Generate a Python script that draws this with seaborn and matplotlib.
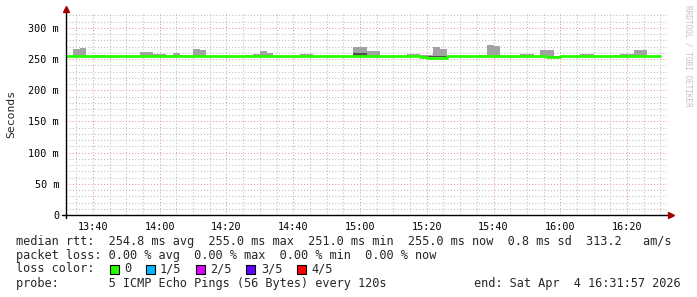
import numpy as np
import pandas as pd
import matplotlib
matplotlib.use("Agg")
import matplotlib.pyplot as plt
import seaborn as sns
from matplotlib.ticker import FixedLocator, MultipleLocator
from matplotlib.patches import Rectangle

sns.set_style("white")
plt.rcParams["font.family"] = ["DejaVu Sans Mono", "DejaVu Sans"]

# ---------------- data (ms), one value per 2-minute bin from 13:32 ----------------
bin_start = 13 * 60 + 32          # minutes since midnight
bin_step = 2                      # minutes
median_ms = [
    255, 255, 255, 255, 255, 255, 255, 255, 255, 255,
    255, 255, 255, 255, 255, 255, 255, 255, 255, 255,
    255, 255, 255, 255, 255, 255, 255, 255, 255, 255,
    255, 255, 255, 255, 255, 255, 255, 255, 255, 255,
    255, 255, 255, 255, 255, 255, 255, 255, 255, 255,
    255, 255, 255, 253.5, 252, 252, 252, 255, 255, 255,
    255, 255, 255, 255, 255, 255, 255, 255, 255, 255,
    255, 255, 253, 253, 255, 255, 255, 255, 255, 255,
    255, 255, 255, 255, 255, 255, 255, 255, 255,
]
smoke_top_ms = [
    255, 266, 268, 255, 257, 257, 255, 255, 255, 255,
    255, 261.5, 261.5, 258, 258, 257, 260, 257, 257, 266,
    265, 255, 255, 255, 255, 255, 255, 257, 258, 263,
    260, 255, 255, 255, 255, 258, 258, 255, 255, 255,
    255, 255, 255, 269.5, 269.5, 263, 263, 255, 255, 255,
    255, 258, 258, 257, 257, 269.5, 266, 255, 255, 255,
    255, 255, 257, 273, 271, 255, 255, 255, 258, 258,
    255, 265, 265, 255, 255, 255, 255, 258, 258, 255,
    255, 255, 257, 258, 258, 265, 265, 255, 255,
]
smoke_dark_top_ms = [255] * 43 + [260, 260] + [255] * 44
smoke_base_ms = 254

x_ticks = ["13:40", "14:00", "14:20", "14:40", "15:00", "15:20", "15:40", "16:00", "16:20"]
y_ticks = [0, 50, 100, 150, 200, 250, 300]
y_tick_labels = ["0", "50 m", "100 m", "150 m", "200 m", "250 m", "300 m"]

loss_labels = ["0", "1/5", "2/5", "3/5", "4/5"]
loss_colors = ["#26ff00", "#00b8ff", "#dd00ff", "#5e00ff", "#ff0000"]

stats_line = ("median rtt:  254.8 ms avg  255.0 ms max  251.0 ms min  "
              "255.0 ms now  0.8 ms sd  313.2   am/s")
loss_line = "packet loss: 0.00 % avg  0.00 % max  0.00 % min  0.00 % now"
probe_line = "probe:       5 ICMP Echo Pings (56 Bytes) every 120s"
end_line = "end: Sat Apr  4 16:31:57 2026"

# ---------------- figure ----------------
W, H = 697, 297
fig = plt.figure(figsize=(W / 100, H / 100), dpi=100)
fig.patch.set_facecolor("white")
ax_l, ax_r, ax_b, ax_t = 66, 667, 215, 13
ax = fig.add_axes([ax_l / W, 1 - ax_b / H, (ax_r - ax_l) / W, (ax_b - ax_t) / H])
ax.set_facecolor("white")

n = len(median_ms)
starts = bin_start + bin_step * np.arange(n)
edges = np.append(starts, starts[-1] + bin_step)
df = pd.DataFrame({"t": starts, "median": median_ms, "top": smoke_top_ms,
                   "dark": smoke_dark_top_ms})

t0 = 13 * 60 + 31 + 57 / 60
ax.set_xlim(t0, t0 + 180)
ax.set_ylim(0, 324)

# grid
ax.xaxis.set_major_locator(FixedLocator([13 * 60 + 40 + 20 * i for i in range(len(x_ticks))]))
ax.xaxis.set_minor_locator(MultipleLocator(5))
ax.yaxis.set_major_locator(FixedLocator(y_ticks))
ax.yaxis.set_minor_locator(MultipleLocator(10))
ax.set_xticklabels(x_ticks)
ax.set_yticklabels(y_tick_labels)
ax.grid(which="minor", color="#bdbdbd", linestyle=(0, (1, 2)), linewidth=0.75)
ax.grid(which="major", color="#e69a9a", linestyle=(0, (1, 2)), linewidth=0.75)
ax.set_axisbelow(True)

# smoke
ax.bar(df["t"], df["top"] - smoke_base_ms, bottom=smoke_base_ms, width=bin_step,
       align="edge", color="#a2a2a2", linewidth=0, zorder=2)
ax.bar(df["t"], df["dark"] - smoke_base_ms, bottom=smoke_base_ms, width=bin_step,
       align="edge", color="#4e4e4e", linewidth=0, zorder=2.1)

# median line
sns.lineplot(x=edges, y=np.append(df["median"].values, df["median"].values[-1]),
             drawstyle="steps-post", color="#26ff00", linewidth=2.0, ax=ax, zorder=3)

for s in ax.spines.values():
    s.set_visible(False)
ax.tick_params(axis="both", which="major", length=0, labelsize=7.3, colors="#000000",
               pad=5)
ax.tick_params(axis="both", which="minor", length=0)
ax.set_xlabel("")
ax.set_ylabel("Seconds", fontsize=8.2)
ax.yaxis.set_label_coords(-(66 - 16) / (ax_r - ax_l), 0.5)

# axis lines with arrows (figure pixel coords)
def fx(x):
    return x / W

def fy(y):
    return 1 - y / H

fig.add_artist(plt.Line2D([fx(62), fx(669)], [fy(215), fy(215)], color="#000000",
                          linewidth=1.0, zorder=5))
fig.add_artist(plt.Line2D([fx(66), fx(66)], [fy(218), fy(11)], color="#000000",
                          linewidth=1.0, zorder=5))
fig.add_artist(plt.Line2D([fx(671)], [fy(215)], marker=">", markersize=4.5,
                          color="#a00000", linestyle="none", zorder=6))
fig.add_artist(plt.Line2D([fx(66)], [fy(9)], marker="^", markersize=4.5,
                          color="#a00000", linestyle="none", zorder=6))

# watermark
fig.text(fx(688), fy(5), "RRDTOOL / TOBI OETIKER", rotation=-90, ha="center",
         va="top", fontsize=5.6, color="#c2c2c2")

# legend / stats text
fs = 8.6
cw = 7.2
x0 = 16
fig.text(fx(x0), fy(241), stats_line, fontsize=fs, va="center", ha="left")
fig.text(fx(x0), fy(255), loss_line, fontsize=fs, va="center", ha="left")
fig.text(fx(x0), fy(269), "loss color:", fontsize=fs, va="center", ha="left")
cols = [13, 18, 25, 32, 39]
for c, lab, col in zip(cols, loss_labels, loss_colors):
    bx = x0 + c * cw
    fig.add_artist(Rectangle((fx(bx), fy(273.5)), 9 / W, 9 / H, facecolor=col,
                             edgecolor="#000000", linewidth=0.8))
    fig.text(fx(bx + 2 * cw), fy(269), lab, fontsize=fs, va="center", ha="left")
fig.text(fx(x0), fy(284), probe_line, fontsize=fs, va="center", ha="left")
fig.text(fx(681), fy(284), end_line, fontsize=fs, va="center", ha="right")

fig.savefig("out.png", dpi=100, facecolor="white")
